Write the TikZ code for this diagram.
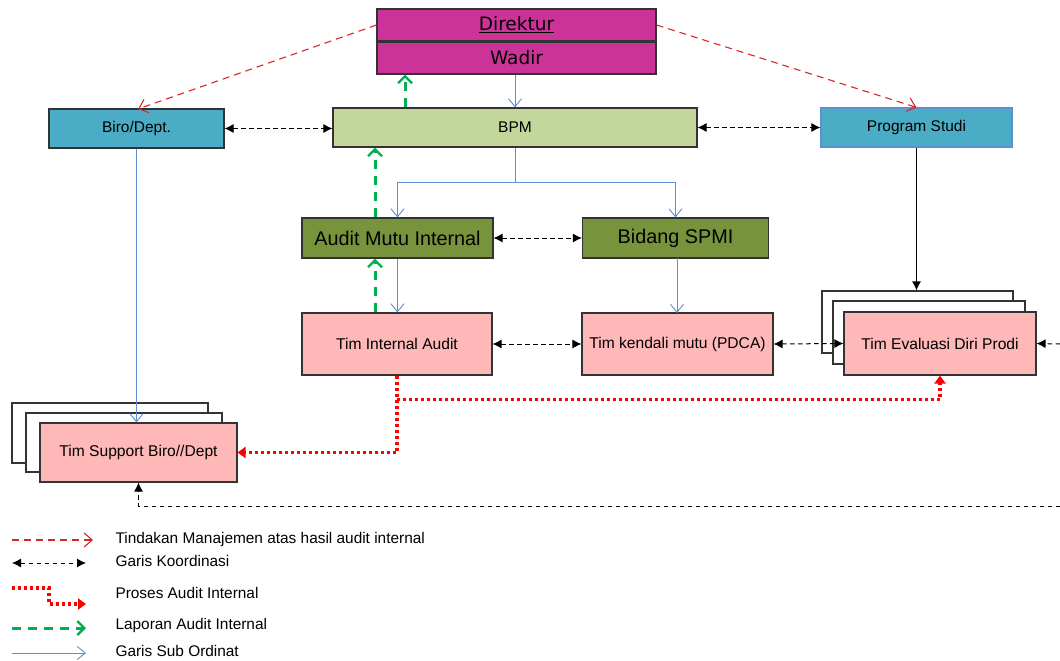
\documentclass[tikz,border=0pt]{standalone}
\usepackage{fontspec}
\setmainfont{Liberation Sans}
\newfontfamily\dvfont{DejaVu Sans}
\usetikzlibrary{arrows.meta,calc}
\definecolor{mag}{HTML}{CC3399}
\definecolor{bpmc}{HTML}{C3D69B}
\definecolor{bluebox}{HTML}{4BACC6}
\definecolor{olive}{HTML}{77933C}
\definecolor{pinkc}{HTML}{FFB8B8}
\definecolor{mgtred}{HTML}{D62828}
\definecolor{dotred}{HTML}{FF0000}
\definecolor{grn}{HTML}{00B050}
\definecolor{subblue}{HTML}{5F8FD0}
\tikzset{
  bx/.style={draw=black!80, line width=1.1pt, inner sep=0pt, align=center},
  fs/.style={font=\fontsize{#1}{#1}\selectfont},
  mgt/.style={draw=mgtred, line width=1.1pt, dash pattern=on 7pt off 5pt, -{Straight Barb[length=8pt,width=14pt,line width=1.1pt]}},
  koor/.style={draw=black, line width=1pt, dash pattern=on 4.5pt off 3.5pt, {Latex[length=9pt,width=9pt]}-{Latex[length=9pt,width=9pt]}},
  koorone/.style={draw=black, line width=1pt, dash pattern=on 4.5pt off 3.5pt, -{Latex[length=9pt,width=9pt]}},
  proses/.style={draw=dotred, line width=3.2pt, dash pattern=on 3pt off 3pt, -{Triangle[length=8pt,width=11pt]}},
  lapor/.style={draw=grn, line width=3pt, dash pattern=on 9pt off 7pt, -{Straight Barb[length=7pt,width=14pt,line width=2.4pt]}},
  sub/.style={draw=subblue, line width=1pt, -{Straight Barb[length=8pt,width=13pt,line width=0.9pt]}},
  solidarr/.style={draw=black, line width=1.2pt, -{Latex[length=9pt,width=9pt]}},
}
\begin{document}
\begin{tikzpicture}[x=1pt,y=-1pt]
\useasboundingbox (0,0) rectangle (1060,661);
% top boxes
\node[bx, fill=mag, minimum width=279pt, minimum height=32pt, font=\dvfont\fontsize{18.5}{18.5}\selectfont] (dir) at (516.5,25) {\underline{Direktur}};
\node[bx, fill=mag, minimum width=279pt, minimum height=32pt, font=\dvfont\fontsize{18.5}{18.5}\selectfont] (wad) at (516.5,58) {Wadir};
\node[bx, fill=bpmc, minimum width=364pt, minimum height=39pt, fs=15.5] (bpm) at (515,127.5) {BPM};
\node[bx, fill=bluebox, minimum width=175pt, minimum height=39pt, fs=15.5] (biro) at (136.5,128.5) {Biro/Dept.};
\node[bx, fill=bluebox, draw=subblue, minimum width=191pt, minimum height=39pt, fs=15.5] (ps) at (916.5,127.5) {Program Studi};
\node[bx, fill=olive, minimum width=191pt, minimum height=40pt, fs=19.8] (amu) at (397.5,238) {Audit Mutu Internal};
\node[bx, fill=olive, minimum width=186pt, minimum height=40pt, fs=19.8] (spmi) at (675.5,238) {Bidang SPMI};
\node[bx, fill=pinkc, minimum width=190pt, minimum height=62pt, fs=15.6] (tia) at (397,344) {Tim Internal Audit};
\node[bx, fill=pinkc, minimum width=191pt, minimum height=62pt, fs=15.6] (tkm) at (677.5,344) {Tim kendali mutu (PDCA)};
% evaluasi stack
\node[bx, fill=white, minimum width=191pt, minimum height=62pt] (ev1) at (917.5,322) {};
\node[bx, fill=white, minimum width=192pt, minimum height=63pt] (ev2) at (929,332.5) {};
\node[bx, fill=pinkc, minimum width=192pt, minimum height=63pt, fs=15.6] (ev) at (940,343.5) {Tim Evaluasi Diri Prodi};
% support stack
\node[bx, fill=white, minimum width=196pt, minimum height=60pt] (sup1) at (110,433) {};
\node[bx, fill=white, minimum width=196pt, minimum height=59pt] (sup2) at (124,442.5) {};
\node[bx, fill=pinkc, minimum width=197pt, minimum height=59pt, fs=15.6] (sup) at (138.5,452.5) {Tim Support Biro//Dept};
% management
\draw[mgt] (dir.west) -- (138,109);
\draw[mgt] (dir.east) -- (ps.north);
% sub ordinat
\draw[sub] (wad.south -| bpm.north) -- (bpm.north);
\coordinate (bj) at ($(bpm.south)+(0,35)$);
\draw[sub] (bpm.south) -- (bj) -| (amu.north);
\draw[sub] (bj) -| (spmi.north);
\draw[sub] (amu.south) -- (amu.south |- tia.north);
\draw[sub] (677,258) -- (677,313);
\draw[sub] (biro.south) -- (biro.south |- sup.north);
% program studi
\draw[solidarr] (ps.south) -- (ps.south |- ev1.north);
% laporan
\draw[lapor] ($(bpm.north)+(-110,0)$) -- ($(wad.south)+(-111.5,0)$);
\draw[lapor] ($(amu.north)+(-22.5,0)$) -- ($(bpm.south)+(-140,0)$);
\draw[lapor] ($(tia.north)+(-22,0)$) -- ($(amu.south)+(-22.5,0)$);
% koordinasi
\draw[koor] (biro.east) -- (biro.east -| bpm.west);
\draw[koor] (bpm.east) -- (ps.west);
\draw[koor] (amu.east) -- (spmi.west);
\draw[koor] (tia.east) -- (tkm.west);
\draw[koor] (tkm.east) -- (ev.west);
\coordinate (re) at (1060,344);
\draw[koorone] (re) -- (ev.east);
\coordinate (rb) at (1060,506);
\draw[koorone] (rb) -- (138.5,506) -- (sup.south);
% proses audit
\coordinate (pj) at ($(tia.south)+(0,24)$);
\draw[proses] (tia.south) |- (sup.east);
\draw[proses] (pj) -| (ev.south);
% legend
\coordinate (l1a) at (12,540); \coordinate (l1b) at (93,540);
\draw[mgt] (l1a) -- (l1b);
\node[anchor=west, fs=15.4] (t1) at (112,540) {Tindakan Manajemen atas hasil audit internal};
\coordinate (l2a) at (12,563); \coordinate (l2b) at (86,563);
\draw[koor] (l2a) -- (l2b);
\node[anchor=west, fs=15.4] (t2) at (112,561) {Garis Koordinasi};
\coordinate (l3a) at (12,588); \coordinate (l3b) at (86,604);
\draw[proses] (l3a) -- (49,588) -- (49,604) -- (l3b);
\node[anchor=west, fs=15.4] (t3) at (112,593) {Proses Audit Internal};
\coordinate (l4a) at (12,628); \coordinate (l4b) at (86,628);
\draw[lapor] (l4a) -- (l4b);
\node[anchor=west, fs=15.4] (t4) at (112,626) {Laporan Audit Internal};
\coordinate (l5a) at (12,653); \coordinate (l5b) at (86,653);
\draw[sub] (l5a) -- (l5b);
\node[anchor=west, fs=15.4] (t5) at (112,651) {Garis Sub Ordinat};
\end{tikzpicture}
\end{document}
